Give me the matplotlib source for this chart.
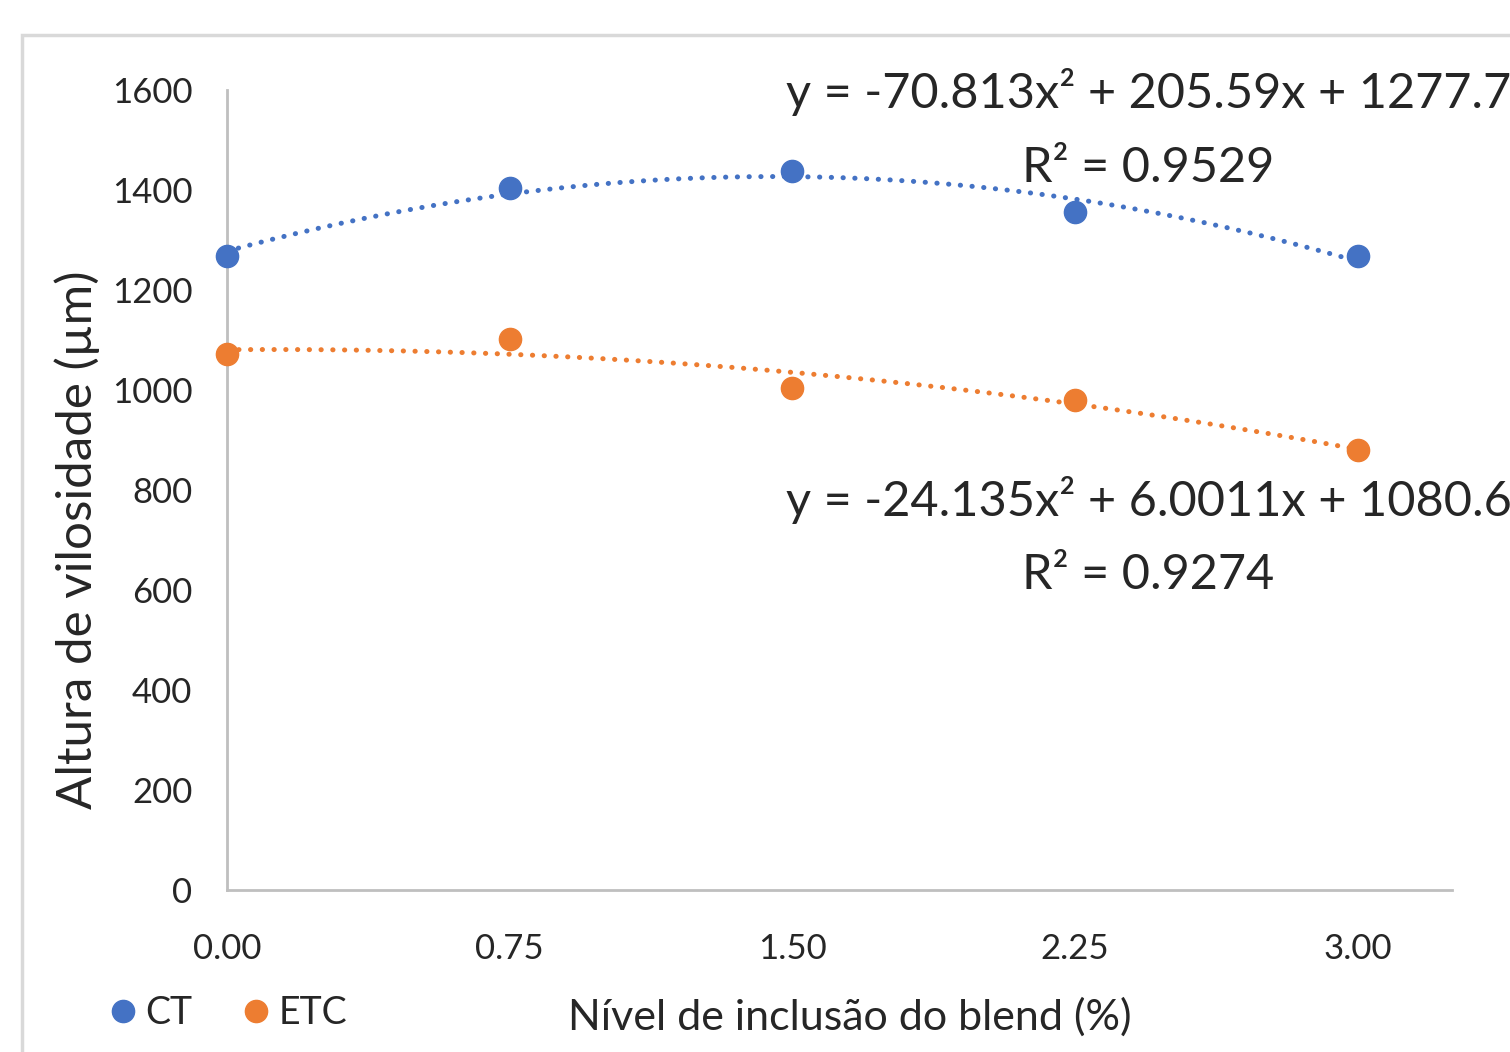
import numpy as np
import matplotlib
matplotlib.use("Agg")
import matplotlib.pyplot as plt
from matplotlib.patches import Rectangle
from matplotlib.lines import Line2D

plt.rcParams['font.family'] = ['Lato', 'DejaVu Sans']

# Data
x_levels = [0.00, 0.75, 1.50, 2.25, 3.00]
x_ticklabels = ["0.00", "0.75", "1.50", "2.25", "3.00"]
ct_values = [1268, 1404, 1438, 1356, 1268]
etc_values = [1072, 1102, 1004, 980, 880]
ct_coefs = [-70.813, 205.59, 1277.7]
etc_coefs = [-24.135, 6.0011, 1080.6]
ct_eq = "y = -70.813x² + 205.59x + 1277.7"
ct_r2 = "R² = 0.9529"
etc_eq = "y = -24.135x² + 6.0011x + 1080.6"
etc_r2 = "R² = 0.9274"
y_ticks = [0, 200, 400, 600, 800, 1000, 1200, 1400, 1600]

blue = "#4472C4"
orange = "#ED7D31"
gray = "#BFBFBF"
txt = "#262626"

W, H = 1510, 1052
fig = plt.figure(figsize=(W / 100, H / 100), dpi=100)
fig.patch.set_facecolor("white")

# outer chart border (partially cropped)
fig.add_artist(Rectangle((22 / W, 1 - 1080 / H), 1520 / W, (1080 - 35) / H,
                         transform=fig.transFigure, fill=False,
                         edgecolor="#D9D9D9", linewidth=2.5))

ax = fig.add_axes([227 / W, 1 - 890 / H, (1452 - 227) / W, (890 - 90) / H])
ax.set_xlim(0, 3.25)
ax.set_ylim(0, 1600)

xs = np.linspace(x_levels[0], x_levels[-1], 200)
dot = (0, (0.05, 2.3))
ax.plot(xs, np.polyval(ct_coefs, xs), linestyle=dot, color=blue,
        linewidth=3.6, dash_capstyle="round", zorder=2)
ax.plot(xs, np.polyval(etc_coefs, xs), linestyle=dot, color=orange,
        linewidth=3.6, dash_capstyle="round", zorder=2)
ax.plot(x_levels, ct_values, 'o', color=blue, markersize=16, zorder=3, clip_on=False)
ax.plot(x_levels, etc_values, 'o', color=orange, markersize=16, zorder=3, clip_on=False)

for s in ["top", "right"]:
    ax.spines[s].set_visible(False)
for s in ["left", "bottom"]:
    ax.spines[s].set_color(gray)
    ax.spines[s].set_linewidth(2)

ax.set_xticks(x_levels)
ax.set_xticklabels(x_ticklabels)
ax.set_yticks(y_ticks)
ax.tick_params(axis="both", length=0, labelsize=25, colors=txt)
ax.tick_params(axis="y", pad=25)
ax.tick_params(axis="x", pad=31)

ax.set_xlabel("Nível de inclusão do blend (%)", fontsize=31, color=txt)
ax.xaxis.set_label_coords(0.5086, -0.134)
ax.set_ylabel("Altura de vilosidade (µm)", fontsize=35.5, color=txt)
ax.yaxis.set_label_coords(-0.104, 0.4375)

# trendline equations
eqx = 2.445
ax.text(eqx, 1596, ct_eq, ha="center", va="center", fontsize=35, color=txt, clip_on=False)
ax.text(eqx, 1444, ct_r2, ha="center", va="center", fontsize=35, color=txt, clip_on=False)
ax.text(eqx, 780, etc_eq, ha="center", va="center", fontsize=35, color=txt, clip_on=False)
ax.text(eqx, 630, etc_r2, ha="center", va="center", fontsize=35, color=txt, clip_on=False)

handles = [Line2D([], [], marker='o', linestyle='none', color=blue, markersize=16),
           Line2D([], [], marker='o', linestyle='none', color=orange, markersize=16)]
fig.legend(handles, ["CT", "ETC"], loc="center left",
           bbox_to_anchor=(70 / W, 1 - 1013 / H), ncol=2, frameon=False,
           fontsize=27, handletextpad=0.1, columnspacing=1.2, handlelength=1.0,
           labelcolor=txt)

fig.savefig("out.png", dpi=100)
